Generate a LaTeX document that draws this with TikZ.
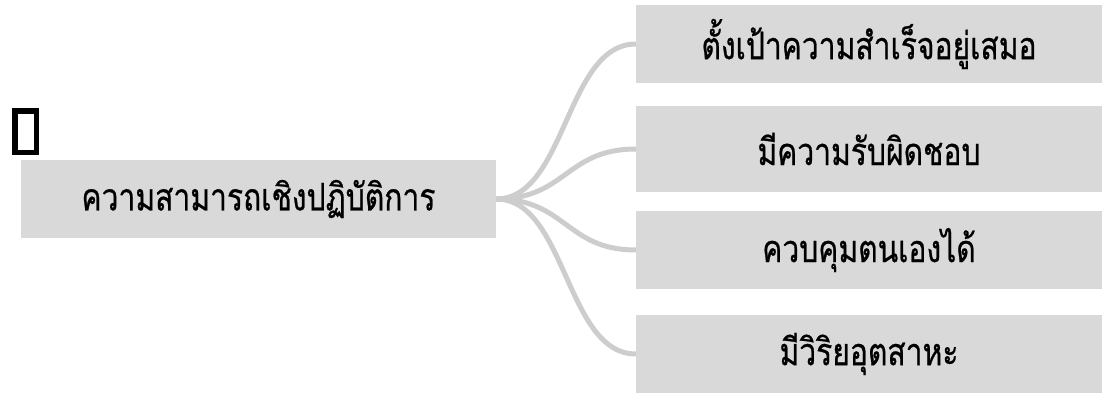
\documentclass[tikz,border=0pt]{standalone}
\usepackage{fontspec}
\newfontfamily\thaifont[Script=Thai,FakeStretch=0.79,FakeBold=0.6]{Loma}
\begin{document}
\begin{tikzpicture}[x=1pt,y=-1pt,
	boxy/.style={fill=boxgray,inner sep=0pt,font=\thaifont\fontsize{38}{44}\selectfont},
	link/.style={draw=linkgray,line width=5pt}]
			\definecolor{boxgray}{HTML}{D9D9D9}
			\definecolor{linkgray}{HTML}{CDCDCD}
			\useasboundingbox(0,0) rectangle (1102,394);
			\node[draw=black,line width=5.5pt,minimum width=21.5pt,minimum height=41.5pt,inner sep=0pt] (tofu) at(25.5,131.5){};
			\node[boxy,minimum width=475pt,minimum height=78pt] (root) at(258.5,199){ความสามารถเชิงปฏิบัติการ};
			\node[boxy,minimum width=466pt,minimum height=78pt] (goal) at(869,44){ตั้งเป้าความสำเร็จอยู่เสมอ};
			\node[boxy,minimum width=466pt,minimum height=86pt] (duty) at(869,149){มีความรับผิดชอบ};
			\node[boxy,minimum width=466pt,minimum height=78pt] (self) at(869,250){ควบคุมตนเองได้};
			\node[boxy,minimum width=466pt,minimum height=78pt] (effort) at(869,354){มีวิริยอุตสาหะ};
			\draw[link](root.east)..controls +(70,0) and +(-70,0)..(goal.west);
			\draw[link](root.east)..controls +(70,0) and +(-70,0)..(duty.west);
			\draw[link](root.east)..controls +(70,0) and +(-70,0)..(self.west);
			\draw[link](root.east)..controls +(70,0) and +(-70,0)..(effort.west);
			\end{tikzpicture}
\end{document}
